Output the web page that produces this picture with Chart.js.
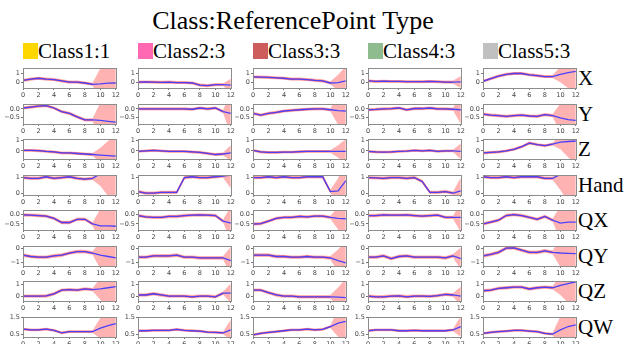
<!DOCTYPE html>
<html>
<head>
<meta charset="utf-8">
<script src="https://cdn.jsdelivr.net/npm/chart.js@4"></script>
<style>
body { margin: 0; background: #fff; }
#fig { position: relative; width: 630px; height: 344px; overflow: hidden; font-family: "Liberation Serif", "Times New Roman", serif; color: #000; }
.t { position: absolute; white-space: nowrap; line-height: 1; }
.sq { position: absolute; }
canvas { position: absolute; }
</style>
</head>
<body>
<div id="fig"></div>
<script>
const steps = [0, 1, 2, 3, 4, 5, 6, 7, 8, 9, 10, 11, 12];
const rowNames = ['X', 'Y', 'Z', 'Hand', 'QX', 'QY', 'QZ', 'QW'];
const classLabels = ['Class1:1', 'Class2:3', 'Class3:3', 'Class4:3', 'Class5:3'];
const classColors = ['#ffd700', '#ff69b4', '#cd5c5c', '#8fbc8f', '#c0c0c0'];

// last observed step per class column, the cone starts there
const splitIndex = [9, 11, 10, 11, 9];

const meanX = [
  [0.2, 0.35, 0.45, 0.35, 0.3, 0.15, 0.0, 0.0, -0.1, -0.25, -0.2, -0.12, -0.1],
  [0.0, 0.02, 0.0, -0.02, 0.0, -0.05, -0.05, -0.1, -0.35, -0.4, -0.3, -0.3, -0.35],
  [0.6, 0.58, 0.55, 0.5, 0.45, 0.35, 0.35, 0.3, 0.2, 0.15, -0.1, -0.05, 0.15],
  [0.15, 0.08, 0.1, 0.08, 0.08, 0.05, 0.05, 0.05, 0.08, 0.05, 0.0, 0.0, 0.02],
  [0.1, 0.4, 0.7, 0.9, 1.0, 1.0, 0.85, 0.75, 0.65, 0.65, 0.9, 1.1, 1.25]
];
const meanY = [
  [0.05, 0.1, 0.15, 0.18, 0.05, -0.15, -0.25, -0.45, -0.62, -0.62, -0.65, -0.7, -0.75],
  [0.0, 0.0, 0.0, 0.0, 0.0, 0.0, 0.0, -0.02, 0.05, 0.0, 0.05, -0.15, -0.25],
  [-0.25, -0.35, -0.25, -0.2, -0.12, -0.08, -0.05, -0.02, 0.0, 0.0, -0.05, -0.1, -0.12],
  [-0.05, -0.03, 0.0, 0.02, 0.05, -0.05, 0.02, 0.02, 0.05, 0.0, 0.0, -0.02, -0.05],
  [-0.3, -0.35, -0.38, -0.42, -0.38, -0.35, -0.4, -0.42, -0.32, -0.38, -0.5, -0.6, -0.65]
];
const meanZ = [
  [0.05, 0.05, 0.02, -0.05, -0.1, -0.2, -0.2, -0.25, -0.3, -0.35, -0.4, -0.45, -0.5],
  [-0.05, 0.0, 0.05, 0.0, -0.05, -0.05, -0.05, -0.1, -0.15, -0.25, -0.35, -0.3, -0.2],
  [0.05, -0.1, -0.15, -0.15, -0.12, -0.12, -0.08, -0.05, -0.05, -0.05, -0.05, -0.05, -0.05],
  [-0.05, -0.1, -0.12, -0.1, -0.05, -0.02, 0.05, 0.0, 0.05, -0.05, 0.0, 0.0, -0.05],
  [-0.2, -0.15, -0.1, 0.0, 0.15, 0.4, 0.75, 0.6, 0.5, 0.65, 0.85, 0.9, 0.95]
];
const meanHand = [
  [1.0, 0.95, 0.95, 1.05, 0.95, 1.0, 1.05, 0.95, 0.9, 0.95, 1.25, 1.4, 1.5],
  [0.1, 0.0, 0.0, 0.05, 0.05, 0.05, 1.0, 1.05, 1.0, 1.0, 1.05, 1.1, 1.15],
  [1.0, 1.0, 1.05, 1.0, 1.05, 1.0, 1.0, 1.05, 1.05, 1.05, 0.1, 0.15, 0.8],
  [1.0, 0.98, 0.95, 1.0, 1.0, 0.95, 1.0, 0.75, 0.05, 0.05, 0.1, 0.0, 0.15],
  [1.05, 1.0, 1.0, 1.05, 1.0, 1.05, 1.05, 1.05, 0.95, 0.95, 1.2, 1.4, 1.5]
];
const meanQX = [
  [-0.02, -0.03, -0.05, -0.08, -0.2, -0.42, -0.42, -0.25, -0.25, -0.5, -0.6, -0.6, -0.62],
  [-0.05, -0.12, -0.15, -0.15, -0.1, -0.1, -0.05, -0.03, -0.02, -0.03, -0.05, -0.35, -0.45],
  [-0.5, -0.48, -0.35, -0.2, -0.15, -0.15, -0.1, -0.12, -0.08, -0.08, -0.15, -0.2, -0.22],
  [-0.05, -0.05, -0.02, -0.03, -0.03, -0.02, -0.05, -0.08, -0.05, -0.03, -0.15, -0.15, -0.15],
  [-0.5, -0.4, -0.3, -0.05, 0.0, -0.05, -0.15, -0.25, -0.1, -0.3, -0.45, -0.4, -0.4]
];
const meanQY = [
  [-0.5, -0.6, -0.65, -0.65, -0.55, -0.5, -0.35, -0.25, -0.25, -0.35, -0.5, -0.6, -0.7],
  [-0.65, -0.65, -0.55, -0.55, -0.55, -0.5, -0.65, -0.65, -0.7, -0.7, -0.7, -0.7, -0.9],
  [-0.5, -0.5, -0.5, -0.6, -0.6, -0.65, -0.65, -0.6, -0.65, -0.65, -0.7, -0.9, -1.05],
  [-0.65, -0.65, -0.55, -0.75, -0.6, -0.55, -0.65, -0.65, -0.65, -0.65, -0.7, -0.55, -0.75],
  [-0.55, -0.45, -0.3, 0.0, 0.02, -0.15, -0.3, -0.3, -0.2, -0.3, -0.35, -0.38, -0.4]
];
const meanQZ = [
  [0.0, 0.0, 0.0, 0.02, 0.2, 0.5, 0.55, 0.5, 0.6, 0.55, 0.6, 0.7, 0.8],
  [0.1, 0.1, 0.2, 0.1, 0.0, 0.0, 0.0, -0.05, 0.0, 0.0, -0.05, 0.25, 0.25],
  [0.5, 0.5, 0.3, 0.1, 0.0, 0.0, -0.05, -0.05, -0.05, -0.05, -0.05, -0.08, -0.12],
  [0.0, -0.05, -0.05, 0.0, 0.02, -0.05, 0.0, 0.0, -0.02, 0.05, 0.15, 0.1, 0.0],
  [0.45, 0.5, 0.65, 0.7, 0.75, 0.75, 0.6, 0.7, 0.75, 0.7, 0.9, 1.05, 1.2]
];
const meanQW = [
  [0.8, 0.75, 0.75, 0.8, 0.72, 0.58, 0.65, 0.65, 0.65, 0.65, 0.85, 1.0, 1.12],
  [0.7, 0.7, 0.72, 0.72, 0.72, 0.78, 0.72, 0.7, 0.68, 0.62, 0.6, 0.58, 0.75],
  [0.45, 0.55, 0.6, 0.65, 0.7, 0.75, 0.75, 0.8, 0.75, 0.78, 0.95, 1.15, 1.25],
  [0.7, 0.75, 0.75, 0.75, 0.7, 0.7, 0.72, 0.7, 0.7, 0.7, 0.7, 0.75, 0.95],
  [0.55, 0.6, 0.65, 0.68, 0.72, 0.72, 0.68, 0.65, 0.55, 0.5, 0.75, 0.95, 1.05]
];

// half width of the pink cone for each step after the split
const coneX = [[1.8, 3.0, 4.0], [0.75], [0.9, 1.7], [0.7], [0.9, 1.8, 2.7]];
const coneY = [[1.0, 2.0, 3.0], [1.2], [0.8, 1.6], [0.8], [0.8, 1.6, 2.4]];
const coneZ = [[0.7, 1.4, 2.1], [0.75], [0.6, 1.2], [0.75], [0.7, 1.5, 2.2]];
const coneHand = [[0.8, 1.6, 2.4], [0.85], [0.8, 1.6], [0.85], [1.0, 2.0, 3.0]];
const coneQX = [[0.9, 1.8, 2.7], [0.9], [0.6, 1.2], [0.8], [0.9, 1.8, 2.7]];
const coneQY = [[1.0, 2.0, 3.0], [1.0], [0.8, 1.6], [0.8], [1.0, 2.0, 3.0]];
const coneQZ = [[0.9, 1.8, 2.7], [0.8], [0.8, 1.6], [0.8], [0.8, 1.6, 2.4]];
const coneQW = [[0.6, 1.2, 1.8], [0.6], [0.8, 1.6], [0.6], [0.8, 1.6, 2.4]];

// narrow band around the observed part, per row
const bandWidth = [0.18, 0.09, 0.14, 0.11, 0.09, 0.13, 0.14, 0.08];

const yLimits = [[-0.68, 1.65], [-0.85, 0.28], [-0.78, 1.15], [-0.12, 1.17], [-0.82, 0.25], [-1.28, 0.16], [-0.4, 1.27], [0.33, 1.52]];
const yTicks = [[0, 1], [-0.5, 0], [0, 1], [0, 1], [-0.5, 0], [-1, 0], [0, 1], [0.5, 1, 1.5]];
const yDecimals = [0, 1, 0, 0, 1, 0, 0, 1];

const means = [meanX, meanY, meanZ, meanHand, meanQX, meanQY, meanQZ, meanQW];
const cones = [coneX, coneY, coneZ, coneHand, coneQX, coneQY, coneQZ, coneQW];

const fig = document.getElementById('fig');
const colLeft = c => 23 + 115 * c;
const rowTop = r => 67 + 35.57 * r;
const plotW = 94, plotH = 21;

function addText(txt, x, y, size, extra) {
  const d = document.createElement('div');
  d.className = 't';
  d.textContent = txt;
  d.style.left = x + 'px';
  d.style.top = y + 'px';
  d.style.fontSize = size + 'px';
  if (extra) Object.assign(d.style, extra);
  fig.appendChild(d);
}

addText('Class:ReferencePoint Type', 293, 8, 26, { transform: 'translateX(-50%)' });

classLabels.forEach((lab, c) => {
  const sq = document.createElement('div');
  sq.className = 'sq';
  sq.style.cssText = `left:${colLeft(c)}px;top:43px;width:15px;height:16px;background:${classColors[c]}`;
  fig.appendChild(sq);
  addText(lab, colLeft(c) + 15, 41, 21);
});

rowNames.forEach((n, r) => addText(n, 578, rowTop(r) + 1, 21));

const frame = {
  id: 'frame',
  afterDraw(chart) {
    const a = chart.chartArea, ctx = chart.ctx;
    ctx.save();
    ctx.strokeStyle = '#8c8c8c';
    ctx.lineWidth = 1;
    ctx.strokeRect(Math.round(a.left) + 0.5, Math.round(a.top) + 0.5, Math.round(a.right - a.left), Math.round(a.bottom - a.top));
    ctx.restore();
  }
};

const tickFont = { family: '"DejaVu Sans"', size: 6.5 };

for (let r = 0; r < rowNames.length; r++) {
  for (let c = 0; c < classLabels.length; c++) {
    const mean = means[r][c];
    const cone = cones[r][c];
    const split = splitIndex[c];
    const width = steps.map(i => i <= split ? bandWidth[r] : cone[i - split - 1]);

    const canvas = document.createElement('canvas');
    canvas.width = 22 + plotW + 4;
    canvas.height = 4 + plotH + 13;
    canvas.style.left = (colLeft(c) - 22) + 'px';
    canvas.style.top = Math.round(rowTop(r) - 4) + 'px';
    fig.appendChild(canvas);

    new Chart(canvas.getContext('2d'), {
      type: 'line',
      data: {
        datasets: [{
          data: steps.map(i => ({ x: i, y: mean[i] })),
          borderColor: 'rgb(75,65,250)',
          borderWidth: 1.3,
          pointRadius: 0,
          fill: false
        }, {
          data: steps.filter(i => i <= split).map(i => ({ x: i, y: mean[i] })),
          borderColor: 'rgba(255,70,70,0.75)',
          borderWidth: 1.8,
          pointRadius: 0,
          fill: false
        }, {
          data: steps.map(i => ({ x: i, y: mean[i] + width[i] })),
          borderColor: 'rgba(0,0,0,0)',
          borderWidth: 0,
          pointRadius: 0,
          backgroundColor: 'rgba(255,0,0,0.3)',
          fill: '+1'
        }, {
          data: steps.map(i => ({ x: i, y: mean[i] - width[i] })),
          borderColor: 'rgba(0,0,0,0)',
          borderWidth: 0,
          pointRadius: 0,
          fill: false
        }]
      },
      options: {
        responsive: false,
        animation: false,
        devicePixelRatio: 1,
        events: [],
        layout: { padding: { top: 4, right: 4, left: 0, bottom: 0 } },
        plugins: { legend: { display: false }, tooltip: { enabled: false } },
        scales: {
          x: {
            type: 'linear', min: 0, max: 12,
            ticks: { stepSize: 2, font: tickFont, color: '#444', padding: 1, maxRotation: 0, autoSkip: false },
            grid: { drawOnChartArea: false, tickLength: 2, color: '#777' },
            border: { display: false },
            afterFit: s => { s.height = 13; }
          },
          y: {
            min: yLimits[r][0], max: yLimits[r][1],
            afterBuildTicks: s => { s.ticks = yTicks[r].map(v => ({ value: v })); },
            ticks: { font: tickFont, color: '#444', padding: 1, callback: v => v.toFixed(yDecimals[r]).replace('-', '\u2212') },
            grid: { drawOnChartArea: false, tickLength: 2, color: '#777' },
            border: { display: false },
            afterFit: s => { s.width = 22; }
          }
        }
      },
      plugins: [frame]
    });
  }
}
</script>
</body>
</html>
